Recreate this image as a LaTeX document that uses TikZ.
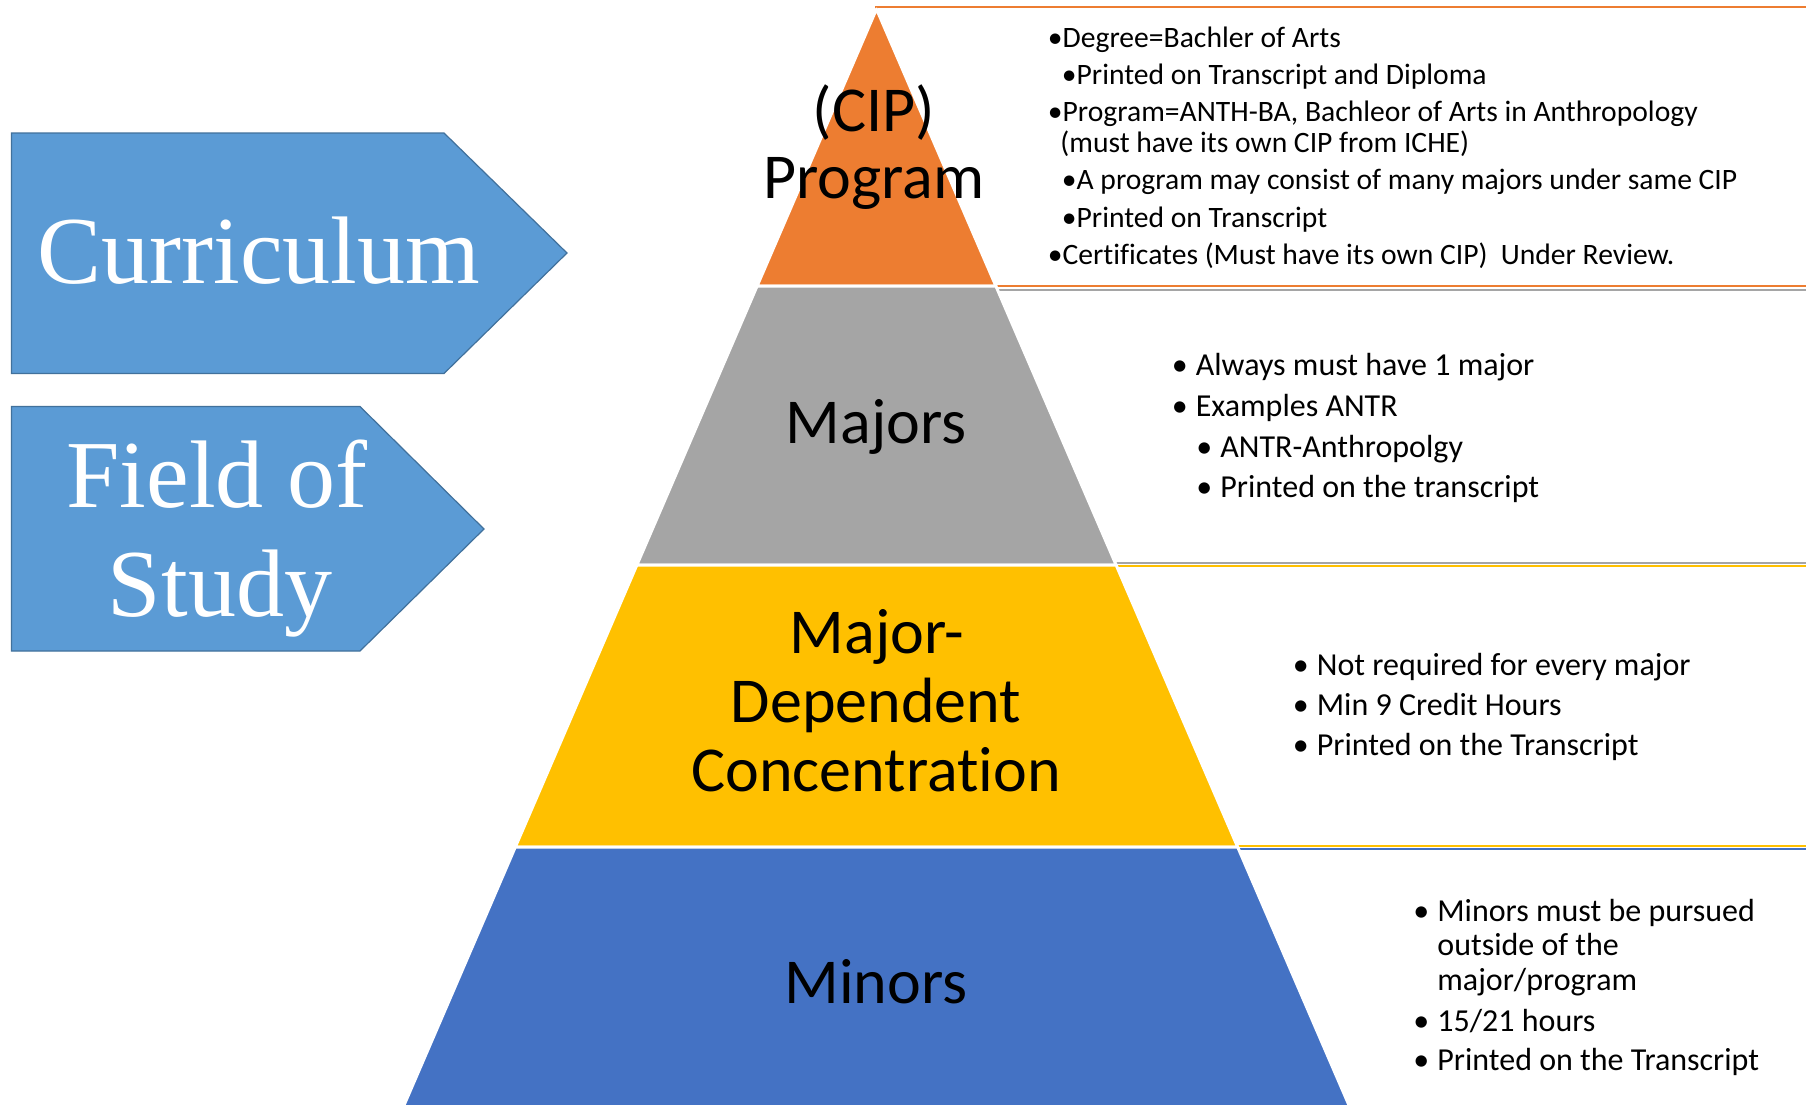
\documentclass[tikz,border=0pt]{standalone}
\usepackage{fontspec}
\setmainfont{Carlito}[Ligatures={NoCommon}]
\newfontfamily\tagfont{Liberation Serif}
\usepackage{tikz}
\usetikzlibrary{positioning}
\definecolor{cipor}{RGB}{237,125,49}
\definecolor{majgray}{RGB}{165,165,165}
\definecolor{concyel}{RGB}{255,192,0}
\definecolor{minblue}{RGB}{68,114,196}
\definecolor{tagblue}{RGB}{91,155,213}
\definecolor{tagline}{RGB}{65,113,156}
\newcommand{\blt}{\llap{\textbullet\hspace{4pt}}}

\begin{document}
\begin{tikzpicture}[x=0.5pt, y=-0.5pt]
    % Define styles
    \tikzstyle{panel} = [fill=white, line width=1.2pt]
    \tikzstyle{band} = [draw=white, line width=1.5pt, line join=round]
    \tikzstyle{tag} = [fill=tagblue, draw=tagline, line width=0.6pt]
    \tikzstyle{tagtext} = [anchor=base, text=white, inner sep=0pt, font=\tagfont\fontsize{48}{54}\selectfont]
    \tikzstyle{level} = [anchor=base, inner sep=0pt, font=\fontsize{32}{35}\selectfont]
    \tikzstyle{cipnote} = [anchor=base west, inner sep=0pt, font=\fontsize{14.8}{17}\selectfont]
    \tikzstyle{note} = [anchor=base west, inner sep=0pt, font=\fontsize{16}{19}\selectfont]

    \useasboundingbox (0,0) rectangle (1806,1104);
    \fill[white] (0,0) rectangle (1806,1104);

    % Panels behind the pyramid
    \draw[panel, draw=cipor] (876.5,7) rectangle (1820,286);
    \draw[panel, draw=majgray] (876.5,290) rectangle (1820,563);
    \draw[panel, draw=concyel] (876.5,566) rectangle (1820,846);
    \draw[panel, draw=minblue] (876.5,849) rectangle (1820,1130);

    % Pyramid bands
    \foreach \yt/\yb/\col in {9/286/cipor, 286/565/majgray, 565/847/concyel, 847/1125/minblue}
        \filldraw[band, fill=\col] ({876.5-0.431*(\yt-9)},\yt) -- ({876.5+0.431*(\yt-9)},\yt)
            -- ({876.5+0.431*(\yb-9)},\yb) -- ({876.5-0.431*(\yb-9)},\yb) -- cycle;

    % Tags on the left
    \draw[tag] (11.5,133) -- (444,133) -- (567,253) -- (444,373.5) -- (11.5,373.5) -- cycle;
    \draw[tag] (11.5,406.5) -- (360,406.5) -- (484,529) -- (360,651) -- (11.5,651) -- cycle;
    \node[tagtext] (curric) at (259,283) {Curriculum};
    \node[tagtext] (field) at (217,507) {Field of};
    \node[tagtext] (study) at (220,616) {Study};

    % Levels
    \node[level] (cip) at (874,131) {(CIP)};
    \node[level] (prog) at (874,198) {Program};
    \node[level] (majors) at (876,443) {Majors};
    \node[level] (conc1) at (877,653) {Major-};
    \node[level] (conc2) at (876,722) {Dependent};
    \node[level] (conc3) at (876,791) {Concentration};
    \node[level] (minors) at (876,1003) {Minors};

    % Program notes
    \node[cipnote] (cipa) at (1047.5,47) {\textbullet Degree=Bachler of Arts};
    \node[cipnote] (cipb) at (1061.5,84) {\textbullet Printed on Transcript and Diploma};
    \node[cipnote] (cipc) at (1047.5,121) {\textbullet Program=ANTH-BA, Bachleor of Arts in Anthropology};
    \node[cipnote] (cipd) at (1060,152) {(must have its own CIP from ICHE)};
    \node[cipnote] (cipe) at (1061.5,189) {\textbullet A program may consist of many majors under same CIP};
    \node[cipnote] (cipf) at (1061.5,227) {\textbullet Printed on Transcript};
    \node[cipnote] (cipg) at (1047.5,264) {\textbullet Certificates (Must have its own CIP)\ \ Under Review.};

    % Major notes
    \node[note] (maja) at (1195.5,375) {\blt Always must have 1 major};
    \node[note] (majb) at (1195.5,416) {\blt Examples ANTR};
    \node[note] (majc) at (1220,457) {\blt ANTR-Anthropolgy};
    \node[note] (majd) at (1220,497) {\blt Printed on the transcript};

    % Concentration notes
    \node[note] (conca) at (1316.5,675) {\blt Not required for every major};
    \node[note] (concb) at (1316.5,715) {\blt Min 9 Credit Hours};
    \node[note] (concc) at (1316.5,755) {\blt Printed on the Transcript};

    % Minor notes
    \node[note] (mina) at (1437,921) {\blt Minors must be pursued};
    \node[note] (minb) at (1437,955) {outside of the};
    \node[note] (minc) at (1437,990) {major/program};
    \node[note] (mind) at (1437,1031) {\blt 15/21 hours};
    \node[note] (mine) at (1437,1070) {\blt Printed on the Transcript};
\end{tikzpicture}
\end{document}
